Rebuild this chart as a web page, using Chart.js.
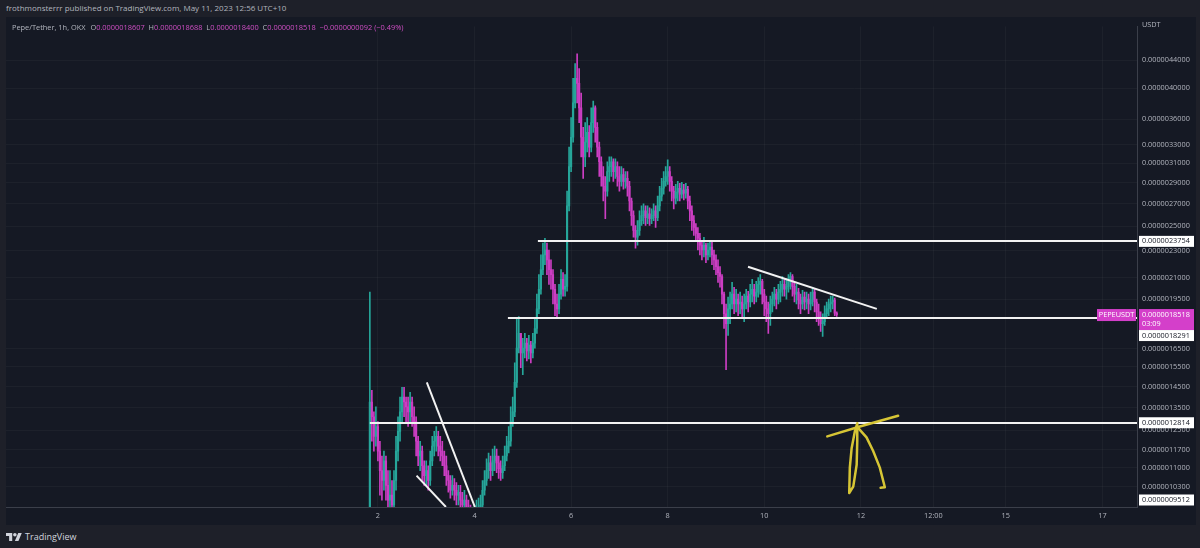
<!DOCTYPE html>
<html>
<head>
<meta charset="utf-8">
<title>Pepe/Tether 1h</title>
<script src="https://cdn.jsdelivr.net/npm/chart.js@4.4.0/dist/chart.umd.min.js"></script>
<style>
  html, body { margin: 0; padding: 0; width: 1200px; height: 548px; overflow: hidden; background: #1e2029; font-family: "Open Sans", sans-serif; }
  #pub { position: absolute; left: 6px; top: 2px; font-size: 8px; color: #b2b5be; white-space: nowrap; }
  #pane { position: absolute; left: 6px; top: 17px; width: 1190px; height: 508px; background: #151924; }
  #legend { position: absolute; left: 12px; top: 22px; font-size: 7.4px; color: #b2b5be; white-space: nowrap; z-index: 2; }
  #legend .v { color: #d14fc6; margin-right: 2px; }
  #legend .n { margin-right: 3px; }
  #logo { position: absolute; left: 6px; top: 530px; font-size: 9px; color: #d1d4dc; white-space: nowrap; display: flex; align-items: center; gap: 3px; }
</style>
</head>
<body>
<div id="pub">frothmonsterrr published on TradingView.com, May 11, 2023 12:56 UTC+10</div>
<div id="pane"><canvas id="chart" width="1190" height="508"></canvas></div>
<div id="legend"><span class="n">Pepe/Tether, 1h, OKX</span> O<span class="v">0.0000018607</span> H<span class="v">0.0000018688</span> L<span class="v">0.0000018400</span> C<span class="v">0.0000018518</span> <span class="v">−0.0000000092 (−0.49%)</span></div>
<div id="logo"><svg width="16" height="10" viewBox="0 0 36 22"><path d="M14 20H7V9H0V2h14z M28 20h-8l7.5-18h8z" fill="#d1d4dc"/><circle cx="20" cy="6" r="4" fill="#d1d4dc"/></svg>TradingView</div>

<script>
// Цены в единицах 1e-10 USDT, свечи часовые
const PRICE_UNIT = 1e-10;
const FIRST_HOUR = -4;      // 1 мая 20:00, часы от 2 мая 00:00
const FIRST_OPEN = 9200;

const closes = [
  13750, 13079, 12234, 12650, 11637, 10886, 10528, 11255, 10354, 9849,
  10014, 9686, 10528, 11637, 12440, 13299, 13982, 13750, 13523, 13299,
  13750, 13079, 12862, 12032, 11444, 11637, 11069, 10706, 10886, 10528,
  11255, 11833, 12032, 12234, 11833, 11637, 11444, 11069, 10706, 10528,
  10183, 10354, 10183, 10014, 10116, 9849, 9686, 9849, 9526, 9368,
  9213, 9061, 9213, 9368, 9526, 9686, 10183, 10528, 10886, 11180,
  10886, 11255, 11444, 11180, 10959, 10814, 11069, 11444, 11833, 12032,
  12862, 13299, 14699, 16520, 17368, 16247, 16520, 16798, 16357, 16687,
  16247, 16798, 17660, 18879, 20182, 21575, 22682, 23064, 22307, 21575,
  21218, 20182, 19197, 18879, 19848, 20867, 20182, 20386, 26801, 30628,
  33853, 38047, 41358, 40673, 37417, 33853, 31667, 33293, 34422, 32742,
  35590, 37417, 35002, 32742, 31143, 29623, 28651, 28177, 30121, 30628,
  31143, 30121, 30628, 29623, 29133, 29821, 29133, 29426, 28651, 27252,
  25922, 24656, 24087, 24656, 25492, 25922, 26358, 25750, 26095, 25664,
  25922, 26358, 25750, 26801, 27710, 28461, 29133, 29623, 30121, 29133,
  28177, 27526, 28083, 28461, 27897, 28272, 27990, 28366, 27252, 26358,
  25492, 24905, 24411, 24007, 23452, 23064, 23452, 22682, 23064, 23296,
  22682, 22307, 21792, 21360, 21077, 19848, 18567, 17958, 18879, 19197,
  19848, 19197, 19520, 19197, 19326, 18879, 19197, 19717, 19326, 19848,
  20182, 19717, 19982, 20522, 20729, 19848, 19326, 18879, 18567, 19197,
  19520, 19848, 19520, 19982, 20182, 20522, 20182, 20386, 20867, 21077,
  20386, 19848, 19982, 19455, 19197, 19651, 19326, 19520, 19197, 19455,
  19982, 19326, 18691, 18260, 17958, 18078, 18567, 18879, 19197, 19326,
  19455, 18607, 18518
];
const highs = [
  19982, 14312, 13299, 13523, 12862, 12032, 11444, 11637, 11444, 10886,
  10886, 10528, 10886, 12234, 13079, 13982, 14456, 14456, 13982, 13982,
  14217, 13982, 13523, 13079, 12234, 12032, 11833, 11255, 11255, 11069,
  11637, 12234, 12440, 12650, 12440, 12234, 12032, 11637, 11444, 10886,
  10706, 10706, 10600, 10458, 10354, 10354, 10116, 10183, 10014, 9849,
  9686, 9526, 9686, 9849, 9915, 10014, 10528, 10886, 11330, 11560,
  11444, 11715, 11833, 11715, 11444, 11255, 11444, 11833, 12234, 12650,
  13523, 13982, 15714, 18260, 18383, 17368, 17081, 17368, 17081, 17253,
  16911, 17368, 18260, 19848, 21218, 22682, 23610, 24007, 23610, 23064,
  22307, 21575, 20522, 19848, 20522, 21575, 21360, 21218, 28177, 32742,
  36189, 41358, 43483, 44958, 42763, 39338, 35002, 35590, 36189, 35236,
  37417, 38303, 37668, 35590, 33293, 31667, 30628, 29623, 31143, 31667,
  31667, 31456, 31456, 31143, 30628, 30628, 30425, 30121, 30121, 29133,
  27526, 26358, 25071, 25492, 26358, 26801, 26981, 26801, 26801, 26623,
  26535, 26981, 26801, 27710, 28651, 29426, 30121, 30628, 31351, 30628,
  29623, 28651, 28843, 29133, 28939, 29036, 28843, 28939, 28651, 27710,
  26801, 25922, 25238, 24905, 24411, 23847, 24087, 23610, 23610, 23847,
  23768, 23064, 22682, 22307, 21792, 21218, 19982, 19197, 19651, 19982,
  20660, 20318, 20182, 19848, 19982, 19717, 19848, 20182, 20048, 20522,
  20867, 20522, 20729, 21007, 21218, 20867, 20182, 19717, 19326, 19717,
  19982, 20318, 20182, 20522, 20729, 21077, 20867, 20937, 21218, 21360,
  21218, 20660, 20522, 20250, 19848, 20115, 19982, 19982, 19848, 19982,
  20318, 20182, 19520, 19197, 18691, 18567, 19070, 19326, 19520, 19717,
  19717, 19585, 18688
];
const lows = [
  8911, 12032, 11637, 11833, 11255, 10014, 9849, 10183, 9849, 9526,
  9368, 9368, 9526, 10183, 11255, 12032, 12862, 13079, 12862, 12650,
  12862, 12650, 12234, 11444, 11069, 10886, 10528, 10354, 10354, 10183,
  10354, 11069, 11444, 11637, 11444, 11255, 11069, 10706, 10354, 10116,
  9915, 10014, 9849, 9686, 9686, 9526, 9368, 9463, 9213, 9061,
  8911, 8764, 8911, 8971, 9152, 9275, 9463, 10014, 10354, 10600,
  10528, 10706, 10886, 10814, 10600, 10528, 10600, 10886, 11255, 11560,
  11833, 12650, 13079, 14456, 16247, 15454, 15096, 15978, 15819, 15925,
  15714, 15978, 16520, 17368, 18567, 19848, 21218, 21938, 21218, 20522,
  20182, 19197, 18444, 18321, 18567, 19520, 19717, 19717, 20048, 26358,
  30121, 33293, 37417, 38047, 35590, 31667, 29426, 30628, 32200, 31667,
  32200, 34422, 33293, 31667, 29623, 28651, 27252, 25664, 27710, 29133,
  29623, 29133, 29426, 28651, 28177, 28651, 28366, 28461, 27710, 26358,
  25071, 24087, 23219, 23452, 24248, 25071, 25238, 25071, 25238, 25071,
  25238, 25492, 24905, 25492, 26358, 27252, 27897, 28651, 28843, 28177,
  27252, 26535, 26981, 27252, 27252, 27526, 27343, 27526, 26535, 25492,
  24656, 24248, 23768, 23064, 22682, 22307, 22531, 22085, 22307, 22531,
  21938, 21575, 21218, 20660, 20318, 19197, 17660, 15351, 17253, 17958,
  18879, 18567, 18691, 18444, 18567, 18260, 18078, 18879, 18691, 19007,
  19326, 19197, 19326, 19651, 19848, 19197, 18444, 18078, 17368, 17839,
  18691, 19070, 18879, 19197, 19326, 19717, 19717, 19520, 19982, 20182,
  19717, 19326, 19197, 18879, 18567, 18879, 18816, 18879, 18567, 18816,
  19070, 18691, 18078, 17839, 17486, 17195, 17839, 18260, 18444, 18691,
  18879, 18444, 18400
];

// Шкала цен и времени
const priceTicks = [44000, 40000, 36000, 33000, 31000, 29000, 27000, 25000, 23000, 21000,
  19500, 16500, 15500, 14500, 13500, 12500, 11700, 11000, 10300];
const timeTicks = [0, 48, 96, 144, 192, 240, 276, 312, 360];
const timeLabels = ['2', '4', '6', '8', '10', '12', '12:00', '15', '17'];

// Рисунки автора: уровни, трендовые линии и стрелка [час, цена]
const levelPrices = [23754, 18291, 12814];
const levelStartHours = [79.5, 64.6, -4];
const trendLines = [
  [[183.9, 21792], [247.9, 18879]],
  [[24.3, 14699], [48.2, 9620]],
  [[19.2, 10706], [33.8, 9620]]
];
const arrowStrokes = [
  [[223.3, 12234], [239.5, 12650], [258.5, 13120]],
  [[238.2, 12790], [237.0, 12440], [235.4, 11750], [234.5, 11000], [234.2, 10090],
   [236.2, 10310], [237.9, 11110], [238.2, 12030], [238.2, 12790]],
  [[238.7, 12580], [242.8, 12190], [246.1, 11640], [249.4, 11000], [251.9, 10290], [249.8, 10270]]
];
const lastPrice = 18518;
const lowLevel = 9512;

const UP = '#26a69a';
const DOWN = '#cc3ec3';
const TEXT = '#b2b5be';
const FONT = '"Open Sans", sans-serif';
const AXIS_FONT_SIZE = 7.3;

const candles = closes.map((c, i) => ({
  x: FIRST_HOUR + i,
  o: i === 0 ? FIRST_OPEN : closes[i - 1],
  h: highs[i],
  l: lows[i],
  c: c
}));

function candleColor(ctx) {
  const k = candles[ctx.dataIndex];
  return k && k.c >= k.o ? UP : DOWN;
}

function priceText(v) {
  return (v * PRICE_UNIT).toFixed(10);
}

/**
 * Линии автора и подписи на шкале цен
 */
const drawingsPlugin = {
  id: 'drawings',
  afterDatasetsDraw(chart) {
    const { ctx, chartArea: a, scales: { x, y } } = chart;
    ctx.save();
    ctx.beginPath();
    ctx.rect(a.left, a.top, a.right - a.left, a.bottom - a.top);
    ctx.clip();

    ctx.strokeStyle = '#f2f2f2';
    ctx.lineWidth = 2;
    levelPrices.forEach((p, i) => {
      const py = Math.round(y.getPixelForValue(p));
      ctx.beginPath();
      ctx.moveTo(x.getPixelForValue(levelStartHours[i]), py);
      ctx.lineTo(a.right, py);
      ctx.stroke();
    });
    trendLines.forEach(l => {
      ctx.beginPath();
      ctx.moveTo(x.getPixelForValue(l[0][0]), y.getPixelForValue(l[0][1]));
      ctx.lineTo(x.getPixelForValue(l[1][0]), y.getPixelForValue(l[1][1]));
      ctx.stroke();
    });

    ctx.strokeStyle = '#d6c535';
    ctx.lineWidth = 2.5;
    ctx.lineJoin = 'round';
    ctx.lineCap = 'round';
    arrowStrokes.forEach(pts => {
      ctx.beginPath();
      pts.forEach((p, i) => {
        const px = x.getPixelForValue(p[0]);
        const py = y.getPixelForValue(p[1]);
        if (i === 0) ctx.moveTo(px, py); else ctx.lineTo(px, py);
      });
      ctx.stroke();
    });
    ctx.restore();
  },
  afterDraw(chart) {
    const { ctx, chartArea: a, scales: { y } } = chart;
    const bx = a.right + 2;
    const bw = 55;
    ctx.save();
    ctx.font = AXIS_FONT_SIZE + 'px ' + FONT;
    ctx.textBaseline = 'middle';
    ctx.textAlign = 'left';

    ctx.fillStyle = TEXT;
    ctx.fillText('USDT', a.right + 5, 8);

    function box(cy, h, bg, fg, lines) {
      ctx.fillStyle = bg;
      ctx.fillRect(bx, cy - 5.5, bw, h);
      ctx.fillStyle = fg;
      lines.forEach((t, i) => ctx.fillText(t, bx + 3, cy + i * 9));
    }

    // текущая цена
    const cy = y.getPixelForValue(lastPrice);
    box(cy, 21, '#d43fca', '#ffffff', [priceText(lastPrice), '03:09']);
    ctx.fillStyle = '#d43fca';
    ctx.fillRect(a.right - 40, cy - 5.5, 39, 12);
    ctx.fillStyle = '#ffffff';
    ctx.textAlign = 'center';
    ctx.fillText('PEPEUSDT', a.right - 20.5, cy + 0.5);
    ctx.textAlign = 'left';

    const curBottom = cy - 5.5 + 21;
    levelPrices.concat([lowLevel]).forEach(p => {
      let py = y.getPixelForValue(p);
      if (py - 5.5 < curBottom && py + 5.5 > cy - 5.5) py = curBottom + 5.5;
      py = Math.min(py, a.bottom - 7);
      box(py, 11, '#ffffff', '#131722', [priceText(p)]);
    });
    ctx.restore();
  }
};

new Chart(document.getElementById('chart'), {
  type: 'bar',
  data: {
    datasets: [
      {
        data: candles.map(k => ({ x: k.x, y: [Math.min(k.l, k.o, k.c), Math.max(k.h, k.o, k.c)] })),
        backgroundColor: candleColor,
        barThickness: 1,
        grouped: false,
        order: 2
      },
      {
        data: candles.map(k => ({ x: k.x, y: [k.o, k.c] })),
        backgroundColor: candleColor,
        barThickness: 1.5,
        minBarLength: 1,
        grouped: false,
        order: 1
      }
    ]
  },
  options: {
    responsive: false,
    animation: false,
    devicePixelRatio: 1,
    layout: { padding: 0 },
    plugins: { legend: { display: false }, tooltip: { enabled: false } },
    scales: {
      x: {
        type: 'linear',
        min: -184.8,
        max: 377.2,
        offset: false,
        grid: { color: 'rgba(255,255,255,0.035)', offset: false, drawTicks: false },
        border: { color: '#3b3f4a' },
        ticks: {
          autoSkip: false,
          maxRotation: 0,
          color: TEXT,
          padding: 5,
          font: { size: AXIS_FONT_SIZE, family: FONT },
          callback: v => timeLabels[timeTicks.indexOf(v)]
        },
        afterBuildTicks: s => { s.ticks = timeTicks.map(v => ({ value: v })); },
        afterFit: s => { s.height = 18; }
      },
      y: {
        type: 'logarithmic',
        position: 'right',
        min: 9620,
        max: 49370,
        grid: { color: 'rgba(255,255,255,0.035)', drawTicks: false },
        border: { color: '#3b3f4a' },
        ticks: {
          autoSkip: false,
          color: TEXT,
          padding: 5,
          font: { size: AXIS_FONT_SIZE, family: FONT },
          callback: v => priceText(v)
        },
        afterBuildTicks: s => { s.ticks = priceTicks.map(v => ({ value: v })); },
        afterFit: s => { s.width = 59; }
      }
    }
  },
  plugins: [drawingsPlugin]
});
</script>
</body>
</html>
